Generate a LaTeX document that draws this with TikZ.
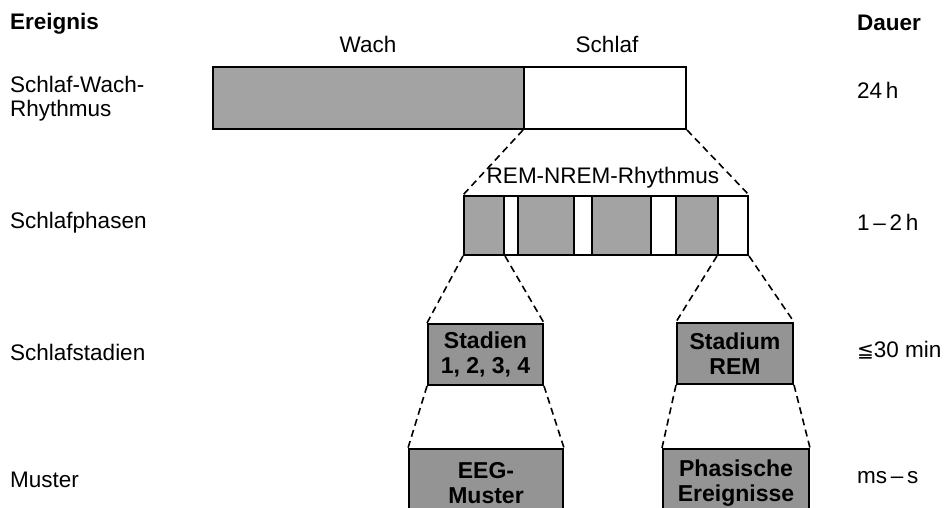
\documentclass[tikz,border=0pt]{standalone}
\usepackage{fontspec}
\setmainfont{Liberation Sans}
\newfontfamily\symfont{DejaVu Sans}
\begin{document}
\begin{tikzpicture}[x=1pt,y=-1pt,
  txt/.style={font=\fontsize{22.5}{24}\selectfont, inner sep=0pt},
  lbl/.style={txt, anchor=west, align=left},
  hdr/.style={font=\fontsize{22.5}{24}\selectfont\bfseries, inner sep=0pt, anchor=west},
  gbox/.style={draw=black, line width=2pt, fill=black!36, inner sep=0pt, anchor=north west},
  wbox/.style={draw=black, line width=2pt, fill=white, inner sep=0pt, anchor=north west},
  sbox/.style={gbox, fill=black!42, align=center, font=\fontsize{23}{24.5}\selectfont\bfseries},
  conn/.style={line width=1.6pt, dash pattern=on 7pt off 4.5pt}
]
\useasboundingbox (0,0) rectangle (950,507);
\clip (0,0) rectangle (950,507);

% left column
\node[hdr] (ereignis) at (10,24) {Ereignis};
\node[lbl] (swr) at (10,99) {Schlaf-Wach-\\Rhythmus};
\node[lbl] (phasen) at (10,223) {Schlafphasen};
\node[lbl] (stadien) at (10,352) {Schlafstadien};
\node[lbl] (muster) at (10,480) {Muster};

% right column
\node[hdr] (dauer) at (857,23) {Dauer};
\node[lbl] (d24) at (857,90) {24\,h};
\node[lbl] (d12) at (857,222) {1\,–\,2\,h};
\node[lbl] (d30) at (857,350) {{\symfont\fontsize{20}{22}\selectfont ≦}30 min};
\node[lbl] (dms) at (857,478) {ms\,–\,s};

% top bar
\node[txt] (lwach) at (368,44) {Wach};
\node[txt] (lschlaf) at (607,44) {Schlaf};
\node[gbox, minimum width=311pt, minimum height=62pt] (wach) at (212,66) {};
\node[wbox, minimum width=162pt, minimum height=62pt] (schlaf) at (523,66) {};

% REM-NREM bar
\node[txt] (lrem) at (603,178) {REM-NREM-Rhythmus};
\node[gbox, minimum width=40pt, minimum height=59pt] (ph1) at (463,195) {};
\node[wbox, minimum width=14pt, minimum height=59pt] (ph2) at (503,195) {};
\node[gbox, minimum width=56pt, minimum height=59pt] (ph3) at (517,195) {};
\node[wbox, minimum width=18pt, minimum height=59pt] (ph4) at (573,195) {};
\node[gbox, minimum width=59pt, minimum height=59pt] (ph5) at (591,195) {};
\node[wbox, minimum width=25pt, minimum height=59pt] (ph6) at (650,195) {};
\node[gbox, minimum width=42pt, minimum height=59pt] (ph7) at (675,195) {};
\node[wbox, minimum width=30pt, minimum height=59pt] (ph8) at (717,195) {};

% stage boxes
\node[sbox, minimum width=115pt, minimum height=61pt] (stad) at (427,323) {Stadien\\1, 2, 3, 4};
\node[sbox, minimum width=116pt, minimum height=61pt] (rem) at (676,322) {Stadium\\REM};
\node[sbox, minimum width=154pt, minimum height=68pt] (eeg) at (408,448) {EEG-\\Muster};
\node[sbox, minimum width=146pt, minimum height=68pt] (phas) at (662,448) {Phasische\\Ereignisse};

% dashed connectors
\draw[conn] (schlaf.south west) -- (ph1.north west);
\draw[conn] (schlaf.south east) -- (ph8.north east);
\draw[conn] (ph1.south west) -- (stad.north west);
\draw[conn] (ph1.south east) -- (stad.north east);
\draw[conn] (ph8.south west) -- (rem.north west);
\draw[conn] (ph8.south east) -- (rem.north east);
\draw[conn] (stad.south west) -- (eeg.north west);
\draw[conn] (stad.south east) -- (eeg.north east);
\draw[conn] (rem.south west) -- (phas.north west);
\draw[conn] (rem.south east) -- (phas.north east);
\end{tikzpicture}
\end{document}
